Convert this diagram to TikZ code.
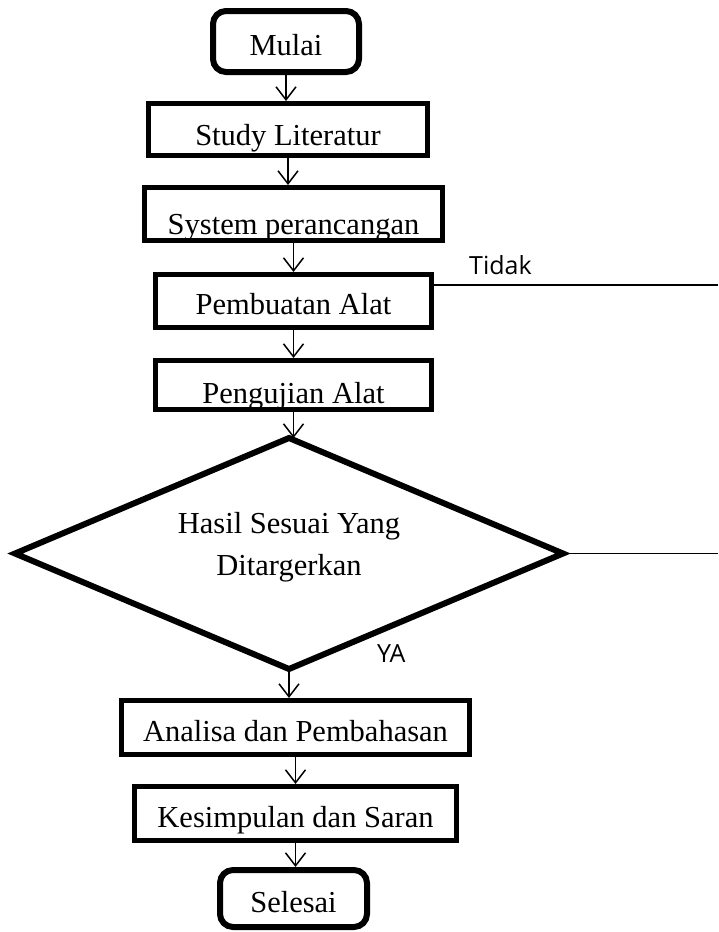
\documentclass[tikz,border=0pt]{standalone}
\usepackage{fontspec}
\setmainfont{Liberation Serif}
\newfontfamily\labelfont{Open Sans}
\usetikzlibrary{arrows.meta,shapes.geometric}
\begin{document}
\begin{tikzpicture}[x=1pt,y=-1pt,
  boxnode/.style={draw, line width=5pt, rectangle, inner sep=0pt,
    font=\fontsize{30.5}{36}\selectfont, text height=27pt, text depth=0pt},
  termnode/.style={boxnode, line width=6pt, rounded corners=13pt},
  decnode/.style={draw, diamond, line width=6pt, shape aspect=2.3, inner sep=0pt,
    outer sep=0pt, minimum width=548pt, minimum height=231pt},
  dectext/.style={align=center, inner sep=0pt, font=\fontsize{30.5}{42}\selectfont},
  arr/.style={line width=1.5pt, -{Straight Barb[length=13pt,width=20pt]}},
  sideline/.style={line width=1.5pt},
  lbl/.style={font=\labelfont\fontsize{25}{30}\selectfont, anchor=base west, inner sep=0pt}
]
\useasboundingbox (0,0) rectangle (718,932);

\node[termnode, minimum width=146pt, minimum height=61pt] (mulai) at (286,41.5) {Mulai};
\node[boxnode, minimum width=279pt, minimum height=52pt, text height=31pt] (study) at (288,129.5) {Study Literatur};
\node[boxnode, minimum width=298pt, minimum height=53pt, text height=40pt] (system) at (293.5,214) {System perancangan};
\node[boxnode, minimum width=276pt, minimum height=53pt] (buat) at (293.5,301) {Pembuatan Alat};
\node[boxnode, minimum width=276pt, minimum height=49pt, text height=36pt] (uji) at (293.5,385) {Pengujian Alat};
\node[decnode] (hasil) at (289,553.5) {};
\node[dectext] (hasiltxt) at (289,547) {Hasil Sesuai Yang\\Ditargerkan};
\node[boxnode, minimum width=348pt, minimum height=54pt] (analisa) at (295.5,727.5) {Analisa dan Pembahasan};
\node[boxnode, minimum width=322pt, minimum height=54pt] (simpul) at (295.5,813.5) {Kesimpulan dan Saran};
\node[termnode, minimum width=147pt, minimum height=57pt] (selesai) at (293.5,898.5) {Selesai};

% borders drawn again over the text, which they cut at the bottom
\draw[line width=5pt] ([shift={(2.5pt,2.5pt)}]system.south west) rectangle ([shift={(-2.5pt,-2.5pt)}]system.north east);
\draw[line width=5pt] ([shift={(2.5pt,2.5pt)}]uji.south west) rectangle ([shift={(-2.5pt,-2.5pt)}]uji.north east);

\draw[arr] (mulai) -- (mulai |- study.north);
\draw[arr] (study) -- (study |- system.north);
\draw[arr] (system) -- (system |- buat.north);
\draw[arr] (buat) -- (buat |- uji.north);
\draw[arr] (uji) -- (uji |- hasil.north);
\draw[arr] (hasil.south) -- (hasil.south |- analisa.north);
\draw[arr] (analisa) -- (analisa |- simpul.north);
\draw[arr] (simpul) -- (simpul |- selesai.north);

\coordinate (tend) at (718,285);
\draw[sideline] (buat.east |- tend) -- (tend);
\coordinate (hend) at (718,553.5);
\draw[sideline] (hasil.east) -- (hend);

\node[lbl] (tidak) at (469,274) {Tidak};
\node[lbl] (ya) at (377,662) {YA};
\end{tikzpicture}
\end{document}
